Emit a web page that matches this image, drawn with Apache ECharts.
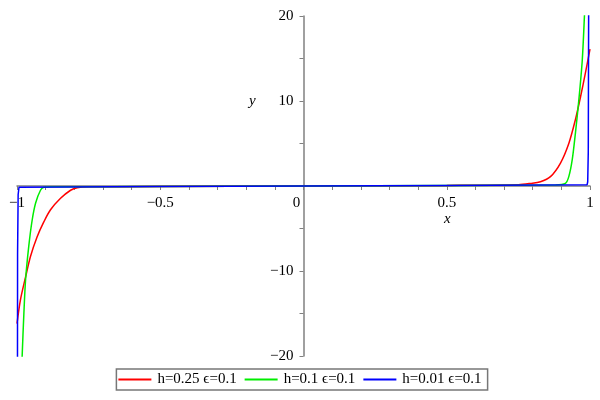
<!DOCTYPE html>
<html>
<head>
<meta charset="utf-8">
<script src="https://cdn.jsdelivr.net/npm/echarts@6/dist/echarts.min.js"></script>
<style>
html,body{margin:0;padding:0;background:#fff;}
#chart{width:600px;height:400px;}
</style>
</head>
<body>
<div id="chart"></div>
<script>
// ---- data ----
var seriesNames = ['h=0.25 \u03f5=0.1', 'h=0.1 \u03f5=0.1', 'h=0.01 \u03f5=0.1'];

var redX = [-1, -0.988, -0.97, -0.953, -0.93, -0.906, -0.883, -0.848, -0.813, -0.79, -0.75, -0.5, 0, 0.5, 0.75, 0.792, 0.827, 0.862, 0.897, 0.926, 0.949, 0.967, 0.984, 1];
var redY = [-16.2, -13.4, -10.7, -8.3, -6.0, -4.2, -2.8, -1.45, -0.5, -0.2, -0.1, -0.07, 0, 0.07, 0.15, 0.3, 0.5, 1.1, 2.7, 5.0, 7.8, 10.5, 13.3, 16.1];

var greenX = [-1, -0.99, -0.982, -0.976, -0.97, -0.959, -0.947, -0.935, -0.918, -0.906, -0.88, -0.5, 0, 0.5, 0.88, 0.914, 0.926, 0.938, 0.949, 0.961, 0.973, 0.981, 0.99, 1];
var greenY = [-41, -27.5, -20, -15, -11, -7.1, -4.0, -2.0, -0.5, -0.15, -0.1, -0.07, 0, 0.07, 0.12, 0.3, 1.1, 3.1, 6.2, 10.1, 14.8, 20.3, 27, 43];

var blueX = [-1, -0.998, -0.996, -0.993, -0.5, 0, 0.5, 0.99, 0.992, 0.994, 0.996, 1];
var blueY = [-80, -8, -1, -0.15, -0.07, 0, 0.07, 0.15, 0.5, 4, 30, 100];

var xTickValues = [-1, -0.5, 0, 0.5, 1];
var xTickLabels = ['\u22121', '\u22120.5', '0', '0.5', '1'];
var yTickValues = [-20, -10, 10, 20];
var yTickLabels = ['\u221220', '\u221210', '10', '20'];
var xAxisTitle = 'x';
var yAxisTitle = 'y';

var colors = ['#ff0000', '#00ee00', '#0000ff'];
// ------------------------------------

function zip(xs, ys) { return xs.map(function (x, i) { return [x, ys[i]]; }); }
var FONT = 'Liberation Serif';
var FS = 15;

function xLabel(v) {
  for (var i = 0; i < xTickValues.length; i++) {
    if (Math.abs(v - xTickValues[i]) < 1e-6) {
      if (xTickValues[i] === 0) return '{z|' + xTickLabels[i] + '}';
      return xTickLabels[i];
    }
  }
  return '';
}
function yLabel(v) {
  for (var i = 0; i < yTickValues.length; i++) {
    if (Math.abs(v - yTickValues[i]) < 1e-6) return yTickLabels[i];
  }
  return '';
}

var GRID = {left: 17, right: 10, top: 16, bottom: 44};
var W = 600, H = 400;
var plotW = W - GRID.left - GRID.right;
var plotH = H - GRID.top - GRID.bottom;

var chart = echarts.init(document.getElementById('chart'), null, {renderer: 'canvas'});
var axisLineStyle = {color: '#808080', width: 1.5};
var nameStyle = {fontFamily: FONT, fontSize: FS, fontStyle: 'italic', color: '#000', fontWeight: 'normal'};
chart.setOption({
  animation: false,
  backgroundColor: '#ffffff',
  grid: {left: GRID.left, right: GRID.right, top: GRID.top, bottom: GRID.bottom, containLabel: false, outerBoundsMode: 'none'},
  title: [
    {text: yAxisTitle, left: 249, top: 94, padding: 0, textStyle: nameStyle},
    {text: xAxisTitle, left: 444, top: 212, padding: 0, textStyle: nameStyle}
  ],
  xAxis: {
    type: 'value', min: -1, max: 1, interval: 0.1,
    position: 'bottom', offset: -plotH / 2,
    axisLine: {onZero: false, lineStyle: axisLineStyle},
    axisTick: {show: true, length: 4, lineStyle: {color: '#808080', width: 1}},
    splitLine: {show: false},
    axisLabel: {
      formatter: xLabel, showMinLabel: true, showMaxLabel: true, margin: 10,
      color: '#000', fontFamily: FONT, fontSize: FS, hideOverlap: false,
      rich: {z: {fontFamily: FONT, fontSize: FS, color: '#000', padding: [0, 14, 0, 0]}}
    }
  },
  yAxis: {
    type: 'value', min: -20, max: 20, interval: 5,
    position: 'left', offset: -plotW / 2,
    axisLine: {onZero: false, lineStyle: axisLineStyle},
    axisTick: {show: true, length: 4, lineStyle: {color: '#808080', width: 1}},
    splitLine: {show: false},
    axisLabel: {
      formatter: yLabel, showMinLabel: true, showMaxLabel: true, margin: 10,
      color: '#000', fontFamily: FONT, fontSize: FS, hideOverlap: false
    }
  },
  legend: {
    bottom: 10, left: 'center',
    data: seriesNames,
    icon: 'rect',
    itemWidth: 33, itemHeight: 2, itemGap: 8,
    padding: [3, 6, 3, 2],
    borderColor: '#777', borderWidth: 1.5, backgroundColor: '#fff',
    textStyle: {fontFamily: FONT, fontSize: FS, color: '#000', padding: [0, 0, 0, 1]}
  },
  series: [
    {name: seriesNames[0], type: 'line', data: zip(redX, redY), symbol: 'none', smooth: 0.3,
     lineStyle: {color: colors[0], width: 1.5}, itemStyle: {color: colors[0]}, clip: true},
    {name: seriesNames[1], type: 'line', data: zip(greenX, greenY), symbol: 'none', smooth: 0.3,
     lineStyle: {color: colors[1], width: 1.5}, itemStyle: {color: colors[1]}, clip: true},
    {name: seriesNames[2], type: 'line', data: zip(blueX, blueY), symbol: 'none', smooth: false,
     lineStyle: {color: colors[2], width: 1.5}, itemStyle: {color: colors[2]}, clip: true}
  ]
});
</script>
</body>
</html>
